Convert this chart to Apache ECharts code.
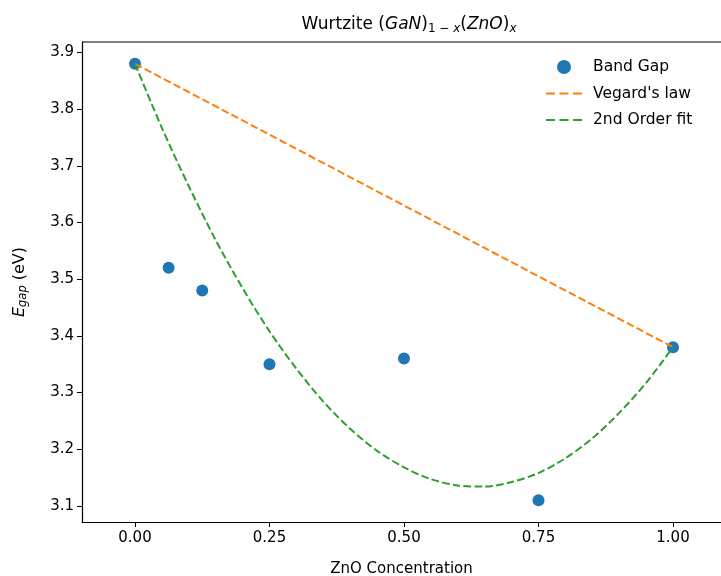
<!DOCTYPE html>
<html>
<head>
<meta charset="utf-8">
<script src="https://cdn.jsdelivr.net/npm/echarts@6/dist/echarts.min.js"></script>
<style>html,body{margin:0;padding:0;background:#fff}#c{width:721px;height:576px}</style>
</head>
<body>
<div id="c"></div>
<script>
var bandX = [0, 0.0625, 0.125, 0.25, 0.5, 0.75, 1.0];
var bandY = [3.88, 3.52, 3.48, 3.35, 3.36, 3.11, 3.38];
var vegardX = [0, 1.0];
var vegardY = [3.88, 3.38];
var fitX = [0, 0.05, 0.1, 0.15, 0.2, 0.25, 0.3, 0.35, 0.4, 0.45, 0.5, 0.55, 0.6, 0.65, 0.7, 0.75, 0.8, 0.85, 0.9, 0.95, 1.0];
var fitY = [3.88, 3.767, 3.664, 3.569, 3.484, 3.408, 3.342, 3.284, 3.236, 3.197, 3.168, 3.147, 3.136, 3.134, 3.142, 3.158, 3.184, 3.219, 3.264, 3.317, 3.38];
var xTicks = [0, 0.25, 0.5, 0.75, 1.0];
var yTicks = [3.1, 3.2, 3.3, 3.4, 3.5, 3.6, 3.7, 3.8, 3.9];

function pairs(xs, ys){ return xs.map(function(x,i){ return [x, ys[i]]; }); }
var FONT = 'DejaVu Sans';
var dash = [7.6, 3.3];
var dashIcon = 'path://M0,0h9v2h-9z M13.5,0h9v2h-9z M27,0h9v2h-9z';
var chart = echarts.init(document.getElementById('c'), null, {renderer:'canvas'});
chart.setOption({
  animation: false,
  backgroundColor: '#fff',
  textStyle: {fontFamily: FONT},
  title: {
    text: '{n|Wurtzite (}{i|GaN}{n|)}{s|1 − }{si|x}{n|(}{i|ZnO}{n|)}{si|x}',
    left: 404, top: 10, textAlign: 'center',
    textStyle: {
      fontWeight: 'normal',
      rich: {
        n: {fontFamily: FONT, fontSize: 17, fontWeight: 'normal', color: '#000'},
        i: {fontFamily: FONT, fontSize: 17, fontStyle: 'italic', fontWeight: 'normal', color: '#000'},
        s: {fontFamily: FONT, fontSize: 12, fontWeight: 'normal', color: '#000', verticalAlign: 'bottom', padding: [8,0,0,0]},
        si: {fontFamily: FONT, fontSize: 12, fontStyle: 'italic', fontWeight: 'normal', color: '#000', verticalAlign: 'bottom', padding: [8,0,0,0]}
      }
    }
  },
  legend: {
    left: 541, top: 54, orient: 'vertical', itemGap: 10.5, itemWidth: 36, itemHeight: 14,
    textStyle: {fontFamily: FONT, fontSize: 15.5, color: '#000', padding: [0,0,0,6]},
    data: [
      {name: 'Band Gap', icon: 'circle', itemStyle: {color: '#1f77b4'}},
      {name: "Vegard's law", icon: dashIcon, itemStyle: {color: '#ff7f0e'}},
      {name: '2nd Order fit', icon: dashIcon, itemStyle: {color: '#2ca02c'}}
    ]
  },
  grid: {left: 82, right: 0, top: 42, bottom: 54, show: false, outerBoundsMode: 'none', containLabel: false},
  xAxis: {
    type: 'value', min: -0.0985, max: 1.0892,
    name: 'ZnO Concentration', nameLocation: 'middle', nameGap: 40,
    nameTextStyle: {fontFamily: FONT, fontSize: 15, color: '#000'},
    axisLine: {show: true, onZero: false, lineStyle: {color: '#000', width: 1.2}},
    axisTick: {show: true, length: 5, inside: false, customValues: xTicks, lineStyle: {color: '#000'}},
    axisLabel: {customValues: xTicks, fontFamily: FONT, fontSize: 15, color: '#000', margin: 9,
      formatter: function(v){ return v.toFixed(2); }},
    splitLine: {show: false}
  },
  yAxis: {
    type: 'value', min: 3.0715, max: 3.9185,
    name: '{i|E}{s|gap}{n| (eV)}', nameLocation: 'middle', nameGap: 53, nameRotate: 90,
    nameTextStyle: {
      rich: {
        n: {fontFamily: FONT, fontSize: 16, color: '#000'},
        i: {fontFamily: FONT, fontSize: 16, fontStyle: 'italic', color: '#000'},
        s: {fontFamily: FONT, fontSize: 11.5, fontStyle: 'italic', color: '#000', verticalAlign: 'bottom', padding: [6,0,0,0]}
      }
    },
    axisLine: {show: true, onZero: false, lineStyle: {color: '#000', width: 1.2}},
    axisTick: {show: true, length: 5, customValues: yTicks, lineStyle: {color: '#000'}},
    axisLabel: {customValues: yTicks, fontFamily: FONT, fontSize: 15, color: '#000', margin: 8,
      formatter: function(v){ return v.toFixed(1); }},
    splitLine: {show: false}
  },
  graphic: [
    {type: 'line', shape: {x1: 82, y1: 42, x2: 721, y2: 42}, style: {stroke: '#000', lineWidth: 1.2}, z: 10}
  ],
  series: [
    {
      name: "Vegard's law", type: 'line', data: pairs(vegardX, vegardY),
      symbol: 'none', lineStyle: {color: '#ff7f0e', width: 2, type: dash}, itemStyle: {color: '#ff7f0e'}, z: 2
    },
    {
      name: '2nd Order fit', type: 'line', data: pairs(fitX, fitY), smooth: 0.3,
      symbol: 'none', lineStyle: {color: '#2ca02c', width: 2, type: dash}, itemStyle: {color: '#2ca02c'}, z: 2
    },
    {
      name: 'Band Gap', type: 'scatter', data: pairs(bandX, bandY),
      symbol: 'circle', symbolSize: 12, itemStyle: {color: '#1f77b4', opacity: 1}, z: 1
    }
  ]
});
</script>
</body>
</html>
